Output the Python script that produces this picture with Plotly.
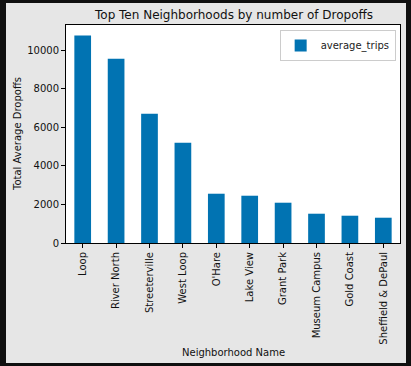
import plotly.graph_objects as go

neighborhoods = ["Loop", "River North", "Streeterville", "West Loop", "O'Hare",
                 "Lake View", "Grant Park", "Museum Campus", "Gold Coast",
                 "Sheffield & DePaul"]
average_trips = [10780, 9568, 6712, 5207, 2559, 2455, 2092, 1521, 1417, 1313]
y_ticks = [0, 2000, 4000, 6000, 8000, 10000]
y_tick_labels = [str(v) for v in y_ticks]

W, H = 411, 366
L, R, T, B = 66, 11, 25, 123
pw, ph = W - L - R, H - T - B

def px_x(px):
    return (px - L) / pw

def px_y(py):
    return (H - B - py) / ph

font = "DejaVu Sans, Verdana, sans-serif"
dark = "#0f0f0f"

def band(x0, x1, y0, y1):
    return dict(type="rect", xref="paper", yref="paper", layer="above",
                x0=px_x(x0), x1=px_x(x1), y0=px_y(y1), y1=px_y(y0),
                fillcolor=dark, line=dict(width=0))

fig = go.Figure()
fig.add_trace(go.Bar(x=neighborhoods, y=average_trips, name="average_trips",
                     marker=dict(color="#0173b2", line=dict(width=0)),
                     showlegend=True))

fig.update_layout(
    width=W, height=H,
    margin=dict(l=L, r=R, t=T, b=B, pad=0),
    paper_bgcolor="#e6e6e6",
    plot_bgcolor="white",
    font=dict(family=font, size=10, color="#222"),
    bargap=0.5,
    showlegend=True,
    legend=dict(x=0.987, y=0.977, xanchor="right", yanchor="top",
                bgcolor="white", bordercolor="#cccccc", borderwidth=1,
                font=dict(size=10, color="#222"), itemwidth=30),
    shapes=[band(0, 6, 0, 366), band(406, 411, 0, 366),
            band(0, 411, 0, 3), band(0, 411, 363, 366)],
    annotations=[
        dict(text="Top Ten Neighborhoods by number of Dropoffs", xref="paper", yref="paper",
             x=0.5, y=px_y(15), xanchor="center", yanchor="middle", showarrow=False,
             font=dict(size=12, color="#111")),
        dict(text="Neighborhood Name", xref="paper", yref="paper",
             x=0.5, y=px_y(352), xanchor="center", yanchor="middle", showarrow=False,
             font=dict(size=10, color="#111")),
        dict(text="Total Average Dropoffs", xref="paper", yref="paper",
             x=px_x(17), y=px_y(134), xanchor="center", yanchor="middle", showarrow=False,
             textangle=-90, font=dict(size=10, color="#111")),
    ],
)
fig.update_xaxes(range=[-0.5, 9.5], tickangle=-90, ticks="outside", ticklen=4,
                 tickcolor="black", showline=True, linecolor="black", linewidth=1,
                 mirror=True, showgrid=False, zeroline=False,
                 tickfont=dict(size=10, color="#111"))
fig.update_yaxes(range=[0, 11320], tickvals=y_ticks, ticktext=y_tick_labels,
                 ticks="outside", ticklen=4,
                 tickcolor="black", showline=True, linecolor="black", linewidth=1,
                 mirror=True, showgrid=False, zeroline=False,
                 tickfont=dict(size=10, color="#111"))

fig.write_html("out.html", config={"displayModeBar": False},
               post_script="document.body.style.margin='0';document.body.style.background='#0f0f0f';")
